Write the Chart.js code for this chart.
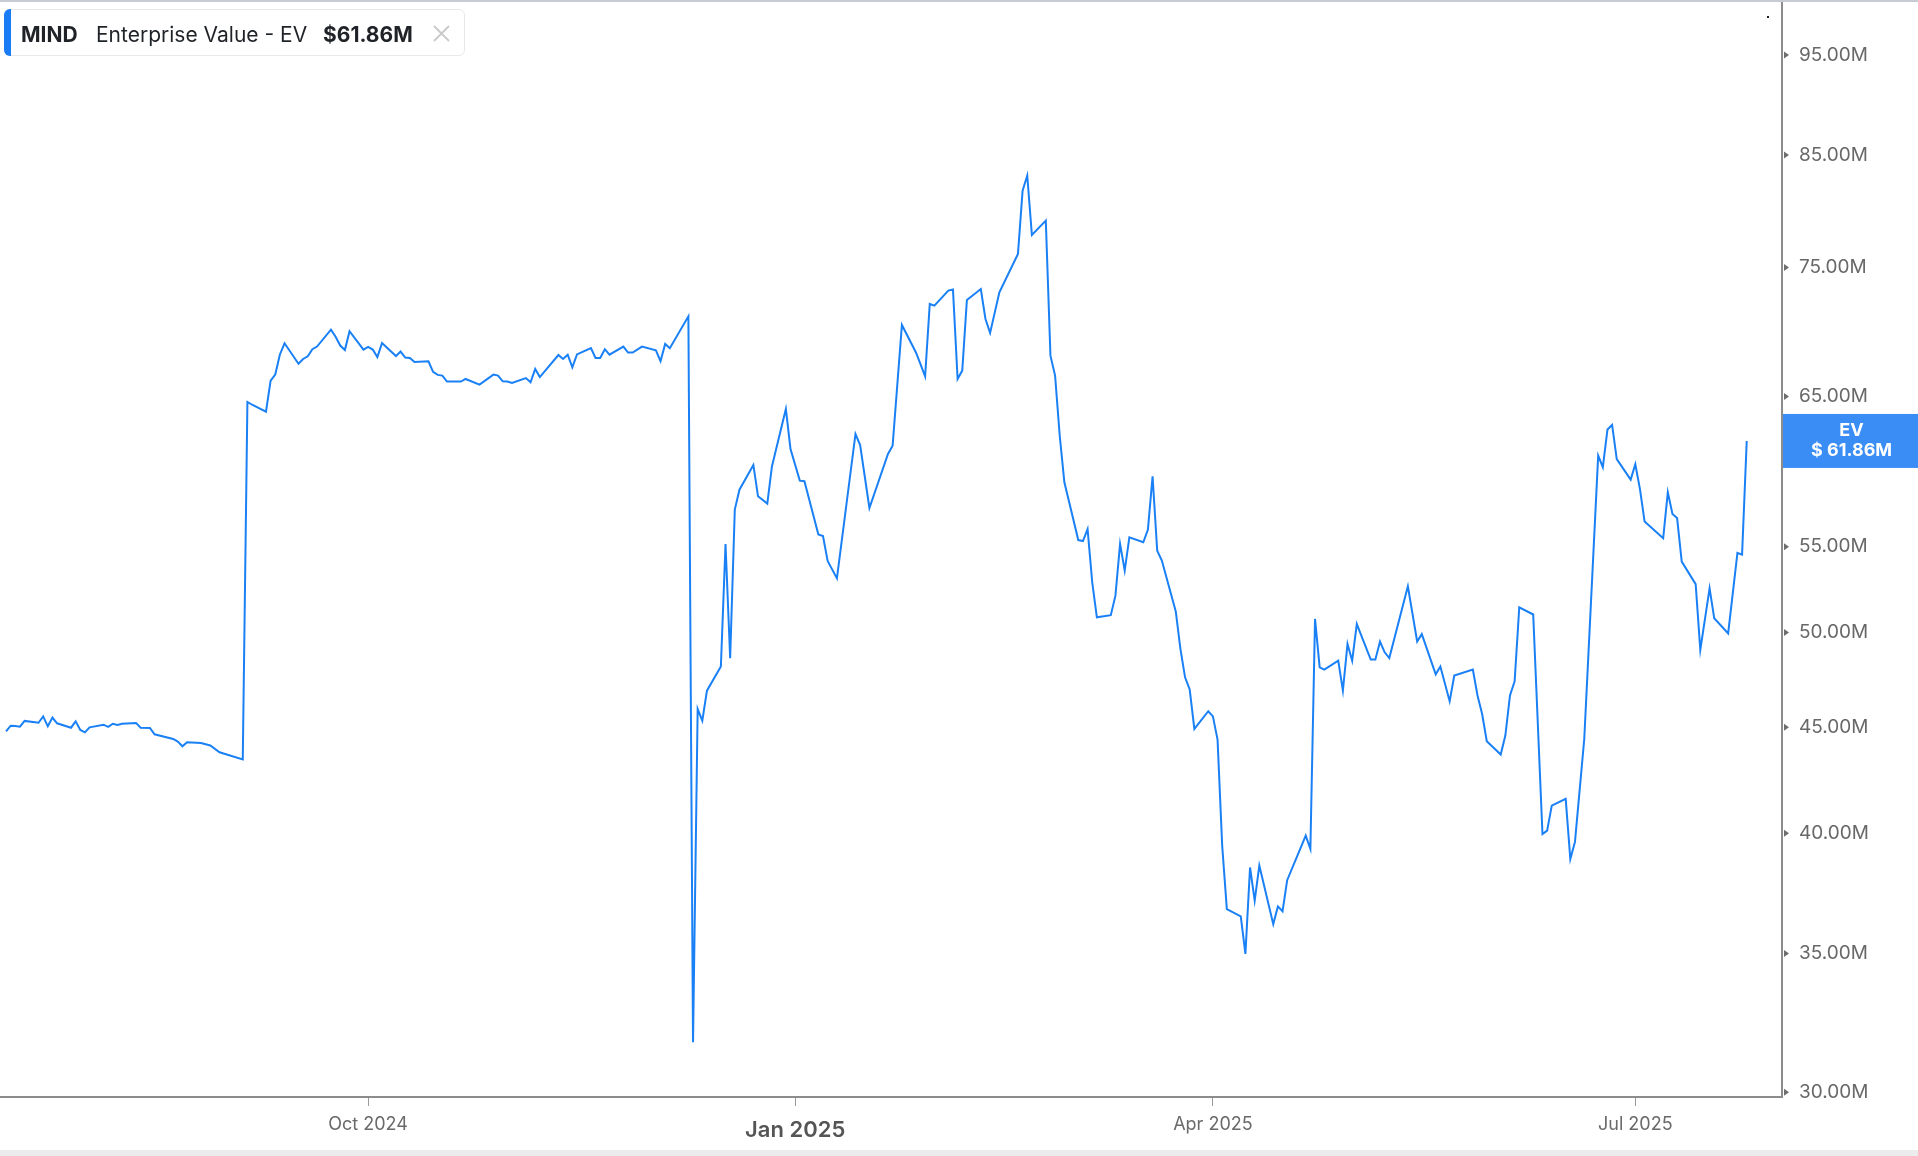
<!DOCTYPE html>
<html>
<head>
<meta charset="utf-8">
<script src="https://cdn.jsdelivr.net/npm/chart.js@4.4.1/dist/chart.umd.min.js"></script>
<style>
html, body { margin: 0; padding: 0; background: #fff; }
body { width: 1918px; height: 1156px; position: relative; overflow: hidden; font-family: Inter, "Noto Sans", sans-serif; }
#topline { position: absolute; left: 0; top: 0; width: 1918px; height: 2px; background: #c7cbd4; }
#bottomband { position: absolute; left: 0; top: 1150px; width: 1918px; height: 6px; background: #ececec; }
#wrap { position: absolute; left: 0; top: 2px; width: 1918px; height: 1148px; }
#legend { position: absolute; left: 4px; top: 9px; width: 461px; height: 47px; background: #fff; border: 1px solid #e8e8ea; border-radius: 6px; box-sizing: border-box; }
#legend .bar { position: absolute; left: -1px; top: -1px; width: 7px; height: 47px; background: #1a7cf5; border-radius: 6px 0 0 6px; }
#legend span { position: absolute; top: 0; line-height: 49px; font-size: 21px; color: #1f2328; white-space: nowrap; }
#legend .tk { left: 16px; font-weight: 700; }
#legend .nm { left: 91px; }
#legend .val { left: 318px; font-weight: 700; }
#legend svg { position: absolute; left: 428px; top: 15px; }
</style>
</head>
<body>
<div id="topline"></div>
<div id="wrap"><canvas id="chartEV"></canvas></div>
<div id="legend">
  <div class="bar"></div>
  <span class="tk">MIND</span>
  <span class="nm">Enterprise Value - EV</span>
  <span class="val" id="legendValue"></span>
  <svg width="17" height="17" viewBox="0 0 17 17"><path d="M1 1 L16 16 M16 1 L1 16" stroke="#c9c9c9" stroke-width="1.8" fill="none"/></svg>
</div>
<div id="bottomband"></div>

<script>
const dates = [
    "2024-07-15", "2024-07-16", "2024-07-17", "2024-07-18", "2024-07-19",
    "2024-07-22", "2024-07-23", "2024-07-24", "2024-07-25", "2024-07-26",
    "2024-07-29", "2024-07-30", "2024-07-31", "2024-08-01", "2024-08-02",
    "2024-08-05", "2024-08-06", "2024-08-07", "2024-08-08", "2024-08-09",
    "2024-08-12", "2024-08-13", "2024-08-15", "2024-08-16", "2024-08-20",
    "2024-08-21", "2024-08-22", "2024-08-23", "2024-08-26", "2024-08-28",
    "2024-08-30", "2024-09-04", "2024-09-05", "2024-09-06", "2024-09-09",
    "2024-09-10", "2024-09-11", "2024-09-12", "2024-09-13", "2024-09-16",
    "2024-09-17", "2024-09-18", "2024-09-19", "2024-09-20", "2024-09-23",
    "2024-09-24", "2024-09-25", "2024-09-26", "2024-09-27", "2024-09-30",
    "2024-10-01", "2024-10-02", "2024-10-03", "2024-10-04", "2024-10-07",
    "2024-10-08", "2024-10-09", "2024-10-10", "2024-10-11", "2024-10-14",
    "2024-10-15", "2024-10-16", "2024-10-17", "2024-10-18", "2024-10-21",
    "2024-10-22", "2024-10-25", "2024-10-28", "2024-10-29", "2024-10-30",
    "2024-10-31", "2024-11-01", "2024-11-04", "2024-11-05", "2024-11-06",
    "2024-11-07", "2024-11-11", "2024-11-12", "2024-11-13", "2024-11-14",
    "2024-11-15", "2024-11-18", "2024-11-19", "2024-11-20", "2024-11-21",
    "2024-11-22", "2024-11-25", "2024-11-26", "2024-11-27", "2024-11-29",
    "2024-12-02", "2024-12-03", "2024-12-04", "2024-12-05", "2024-12-09",
    "2024-12-10", "2024-12-11", "2024-12-12", "2024-12-13", "2024-12-16",
    "2024-12-17", "2024-12-18", "2024-12-19", "2024-12-20", "2024-12-23",
    "2024-12-24", "2024-12-26", "2024-12-27", "2024-12-30", "2024-12-31",
    "2025-01-02", "2025-01-03", "2025-01-06", "2025-01-07", "2025-01-08",
    "2025-01-10", "2025-01-14", "2025-01-15", "2025-01-17", "2025-01-21",
    "2025-01-22", "2025-01-24", "2025-01-27", "2025-01-28", "2025-01-29",
    "2025-01-30", "2025-01-31", "2025-02-03", "2025-02-04", "2025-02-05",
    "2025-02-06", "2025-02-07", "2025-02-10", "2025-02-11", "2025-02-12",
    "2025-02-14", "2025-02-18", "2025-02-19", "2025-02-20", "2025-02-21",
    "2025-02-24", "2025-02-25", "2025-02-26", "2025-02-27", "2025-02-28",
    "2025-03-03", "2025-03-04", "2025-03-05", "2025-03-06", "2025-03-07",
    "2025-03-10", "2025-03-11", "2025-03-12", "2025-03-13", "2025-03-14",
    "2025-03-17", "2025-03-18", "2025-03-19", "2025-03-20", "2025-03-21",
    "2025-03-24", "2025-03-25", "2025-03-26", "2025-03-27", "2025-03-28",
    "2025-03-31", "2025-04-01", "2025-04-02", "2025-04-03", "2025-04-04",
    "2025-04-07", "2025-04-08", "2025-04-09", "2025-04-10", "2025-04-11",
    "2025-04-14", "2025-04-15", "2025-04-16", "2025-04-17", "2025-04-21",
    "2025-04-22", "2025-04-23", "2025-04-24", "2025-04-25", "2025-04-28",
    "2025-04-29", "2025-04-30", "2025-05-01", "2025-05-02", "2025-05-05",
    "2025-05-06", "2025-05-07", "2025-05-08", "2025-05-09", "2025-05-13",
    "2025-05-15", "2025-05-16", "2025-05-19", "2025-05-20", "2025-05-22",
    "2025-05-23", "2025-05-27", "2025-05-28", "2025-05-29", "2025-05-30",
    "2025-06-02", "2025-06-03", "2025-06-04", "2025-06-05", "2025-06-06",
    "2025-06-09", "2025-06-11", "2025-06-12", "2025-06-13", "2025-06-16",
    "2025-06-17", "2025-06-18", "2025-06-20", "2025-06-23", "2025-06-24",
    "2025-06-25", "2025-06-26", "2025-06-27", "2025-06-30", "2025-07-01",
    "2025-07-02", "2025-07-03", "2025-07-07", "2025-07-08", "2025-07-09",
    "2025-07-10", "2025-07-11", "2025-07-14", "2025-07-15", "2025-07-17",
    "2025-07-18", "2025-07-21", "2025-07-23", "2025-07-24", "2025-07-25"
];

// enterprise value, millions of USD
const evValues = [
    44.80, 45.08, 45.06, 45.03, 45.32,
    45.23, 45.55, 45.05, 45.49, 45.20,
    44.98, 45.30, 44.87, 44.75, 45.00,
    45.13, 45.02, 45.18, 45.12, 45.18,
    45.22, 44.98, 44.97, 44.65, 44.42,
    44.29, 44.06, 44.26, 44.22, 44.10,
    43.77, 43.42, 64.60, 64.40, 63.90,
    66.15, 66.60, 68.10, 68.95, 67.40,
    67.76, 67.96, 68.50, 68.70, 70.00,
    69.46, 68.78, 68.44, 69.88, 68.47,
    68.67, 68.47, 67.90, 68.97, 67.98,
    68.32, 67.87, 67.84, 67.53, 67.58,
    66.79, 66.57, 66.52, 66.08, 66.08,
    66.27, 65.86, 66.59, 66.52, 66.10,
    66.08, 65.98, 66.34, 66.03, 67.01,
    66.41, 68.06, 67.76, 68.08, 67.14,
    68.10, 68.59, 67.84, 67.84, 68.50,
    68.08, 68.70, 68.24, 68.24, 68.70,
    68.42, 67.60, 68.90, 68.57, 71.05,
    31.71, 45.92, 45.33, 46.87, 48.15,
    55.17, 48.59, 57.32, 58.60, 60.23,
    58.17, 57.70, 60.13, 64.10, 61.30,
    59.19, 59.15, 55.75, 55.66, 54.14,
    53.10, 62.34, 61.58, 57.42, 60.97,
    61.54, 70.37, 68.27, 67.38, 66.47,
    72.03, 71.90, 73.11, 73.20, 66.27,
    66.89, 72.35, 73.24, 70.84, 69.75,
    72.97, 76.15, 81.70, 83.08, 77.77,
    79.02, 68.01, 66.52, 62.22, 59.08,
    55.41, 55.35, 56.09, 52.87, 50.85,
    50.97, 52.09, 55.17, 53.56, 55.58,
    55.27, 56.06, 59.48, 54.76, 54.16,
    51.18, 49.10, 47.57, 46.93, 44.92,
    45.81, 45.55, 44.39, 39.45, 36.77,
    36.47, 34.98, 38.51, 37.12, 38.59,
    36.16, 36.88, 36.68, 37.97, 39.90,
    39.31, 50.76, 48.10, 47.98, 48.46,
    46.87, 49.37, 48.46, 50.47, 48.52,
    48.52, 49.50, 48.91, 48.60, 52.63,
    49.50, 49.91, 47.73, 48.14, 46.32,
    47.66, 47.98, 46.62, 45.67, 44.31,
    43.66, 44.59, 46.62, 47.36, 51.42,
    51.01, 39.97, 40.12, 41.25, 41.56,
    38.87, 39.62, 44.42, 60.86, 60.08,
    62.65, 62.97, 60.63, 59.26, 60.28,
    58.64, 56.56, 55.52, 58.43, 57.04,
    56.78, 54.10, 52.76, 49.04, 52.51,
    50.80, 49.95, 54.62, 54.52, 61.86
];

const yTickValues = [30, 35, 40, 45, 50, 55, 65, 75, 85, 95];
const xTickDates = ["2024-10-01", "2025-01-01", "2025-04-01", "2025-07-01"];
const xTickLabels = ["Oct 2024", "Jan 2025", "Apr 2025", "Jul 2025"];
const majorTickLabel = "Jan 2025";

const DAY = 86400000;
const toMs = (d) => Date.parse(d + "T00:00:00Z");

// visible window (days around 1 Oct 2024) and log range, in millions
const xMin = toMs("2024-10-01") - 79.3 * DAY;
const xMax = toMs("2024-10-01") + 304.6 * DAY;
const yMin = 29.84;
const yMax = 100.75;

const lastValue = evValues[evValues.length - 1];
document.getElementById("legendValue").textContent = "$" + lastValue.toFixed(2) + "M";

const points = dates.map((d, i) => ({ x: toMs(d), y: evValues[i] }));

function xLabel(v) {
    const i = xTickDates.findIndex((d) => toMs(d) === v);
    return i >= 0 ? xTickLabels[i] : "";
}

// small triangles on the value axis, the EV price tag, the tiny dot
const axisMarks = {
    id: "axisMarks",
    afterDraw(chart) {
        const { ctx, chartArea, scales } = chart;
        const ys = scales.y;
        ctx.save();
        ctx.fillStyle = "#6e6e6e";
        yTickValues.forEach((v) => {
            const py = ys.getPixelForValue(v);
            ctx.beginPath();
            ctx.moveTo(chartArea.right + 2, py - 3.5);
            ctx.lineTo(chartArea.right + 7, py);
            ctx.lineTo(chartArea.right + 2, py + 3.5);
            ctx.closePath();
            ctx.fill();
        });

        const py = ys.getPixelForValue(lastValue);
        const left = chartArea.right + 1;
        const w = chart.width - left;
        ctx.fillStyle = "#3a8df5";
        ctx.fillRect(left, py - 27, w, 54);
        ctx.fillStyle = "#ffffff";
        ctx.textAlign = "center";
        ctx.textBaseline = "middle";
        ctx.font = "700 18px Inter, 'Noto Sans', sans-serif";
        ctx.fillText("EV", left + w / 2 + 1, py - 10);
        ctx.fillText("$ " + lastValue.toFixed(2) + "M", left + w / 2 + 1, py + 10);

        ctx.fillStyle = "#222";
        ctx.fillRect(1767, 14, 2, 2);
        ctx.restore();
    }
};

const configEV = {
    type: "line",
    data: {
        datasets: [
            {
                label: "Enterprise Value - EV",
                data: points,
                borderColor: "#1a80f5",
                borderWidth: 2,
                pointRadius: 0,
                tension: 0,
                fill: false,
            },
        ],
    },
    options: {
        responsive: true,
        maintainAspectRatio: false,
        devicePixelRatio: 1,
        animation: false,
        events: [],
        layout: { padding: 0 },
        plugins: { legend: { display: false }, tooltip: { enabled: false } },
        scales: {
            x: {
                type: "linear",
                min: xMin,
                max: xMax,
                bounds: "data",
                border: { display: true, color: "#8c8c8c", width: 2 },
                grid: { display: true, drawOnChartArea: false, drawTicks: true, tickLength: 9, tickColor: "#9a9a9a", tickWidth: 1 },
                ticks: {
                    autoSkip: false,
                    maxRotation: 0,
                    minRotation: 0,
                    padding: 8,
                    callback: (v) => xLabel(v),
                    color: (c) => (c.tick && xLabel(c.tick.value) === majorTickLabel ? "#555" : "#6a6a6a"),
                    font: (c) => (c.tick && xLabel(c.tick.value) === majorTickLabel
                        ? { size: 22, weight: "600", lineHeight: 1.5 }
                        : { size: 18, weight: "400", lineHeight: 1.2 }),
                },
                afterBuildTicks: (s) => { s.ticks = xTickDates.map((d) => ({ value: toMs(d) })); },
                afterFit: (s) => { s.height = 53; s.paddingLeft = 0; s.paddingRight = 0; },
            },
            y: {
                type: "logarithmic",
                position: "right",
                min: yMin,
                max: yMax,
                bounds: "data",
                border: { display: true, color: "#8c8c8c", width: 2 },
                grid: { display: false, drawTicks: false },
                ticks: {
                    autoSkip: false,
                    padding: 17,
                    color: "#686868",
                    font: { size: 19 },
                    callback: (v) => Number(v).toFixed(2) + "M",
                },
                afterBuildTicks: (s) => { s.ticks = yTickValues.map((v) => ({ value: v })); },
                afterFit: (s) => { s.width = 136; s.paddingTop = 0; s.paddingBottom = 0; },
            },
        },
    },
    plugins: [axisMarks],
};

Chart.defaults.font.family = "Inter, 'Noto Sans', sans-serif";

let chartEV = new Chart(document.getElementById("chartEV"), configEV);
</script>
</body>
</html>
